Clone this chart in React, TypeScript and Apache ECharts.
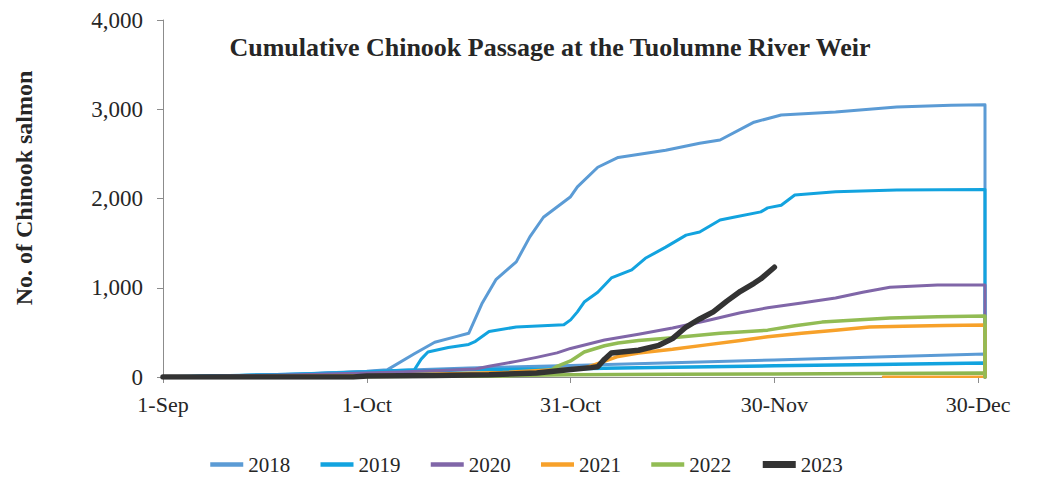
import React, { useEffect, useRef } from "react";
import * as echarts from "echarts";

// X axis: days since 1-Sep
const TICK_DAYS = [0, 30, 60, 90, 120];
const TICK_LABELS = ["1-Sep", "1-Oct", "31-Oct", "30-Nov", "30-Dec"];
const Y_TICKS = [0, 1000, 2000, 3000, 4000];

const LEGEND_NAMES = ["2018", "2019", "2020", "2021", "2022", "2023"];

const DAYS_2018 = [0, 10, 20, 30, 33, 37, 40, 43, 45, 47, 49, 52, 54, 56, 60, 61, 64, 67, 74, 79, 82, 87, 91, 99, 108, 116, 121, 121];
const VAL_2018 = [0, 15, 35, 65, 80, 260, 390, 450, 490, 830, 1090, 1290, 1570, 1790, 2020, 2130, 2350, 2460, 2540, 2620, 2655, 2855, 2935, 2970, 3025, 3045, 3050, 0];

const DAYS_2019 = [0, 10, 20, 30, 37, 38, 39, 42, 45, 46, 48, 52, 59, 60, 61, 62, 64, 66, 69, 71, 74, 77, 79, 82, 84, 88, 89, 91, 93, 99, 108, 121, 121];
const VAL_2019 = [0, 15, 35, 60, 80, 200, 280, 330, 365, 400, 510, 560, 585, 640, 730, 840, 950, 1110, 1200, 1330, 1455, 1590, 1625, 1760, 1790, 1850, 1895, 1925, 2040, 2075, 2095, 2100, 0];

const DAYS_2020 = [0, 20, 35, 46, 48, 52, 55, 58, 60, 65, 70, 75, 80, 85, 89, 94, 99, 103, 107, 114, 121, 121];
const VAL_2020 = [0, 25, 55, 90, 120, 175, 220, 270, 320, 415, 480, 550, 630, 720, 775, 830, 885, 950, 1005, 1030, 1030, 0];

const DAYS_2021 = [0, 30, 50, 62, 64, 67, 70, 75, 80, 85, 89, 94, 99, 104, 109, 115, 121, 121];
const VAL_2021 = [0, 15, 50, 100, 150, 230, 270, 310, 360, 410, 450, 490, 525, 560, 570, 578, 582, 0];

const DAYS_2022 = [0, 50, 55, 57, 58, 60, 62, 65, 67, 70, 75, 82, 89, 93, 97, 102, 107, 114, 121, 121];
const VAL_2022 = [0, 10, 30, 70, 120, 180, 280, 350, 380, 410, 440, 490, 525, 575, 615, 640, 660, 675, 683, 0];

const DAYS_2023 = [0, 28, 30, 40, 48, 55, 60, 63, 64, 65, 66, 70, 73, 75, 77, 79, 81, 83, 85, 87, 88, 90];
const VAL_2023 = [0, 0, 12, 18, 25, 45, 85, 105, 115, 200, 270, 300, 355, 430, 560, 650, 730, 850, 960, 1050, 1100, 1230];

// unlabeled low series
const DAYS_LOW_A = [0, 20, 33, 45, 60, 75, 90, 105, 121, 121];
const VAL_LOW_A = [0, 30, 70, 100, 130, 160, 190, 225, 258, 0];
const DAYS_LOW_B = [0, 20, 33, 45, 60, 75, 90, 105, 121, 121];
const VAL_LOW_B = [0, 28, 60, 80, 92, 108, 125, 140, 157, 0];
const DAYS_LOW_C = [0, 30, 45, 60, 75, 90, 105, 121, 121];
const VAL_LOW_C = [0, 5, 10, 25, 30, 35, 40, 45, 0];
const DAYS_LOW_D = [106, 121];
const VAL_LOW_D = [3, 3];

const FONT = '"Liberation Serif", "Times New Roman", serif';

const pairs = (d: number[], v: number[]) => d.map((x, i) => [x, v[i]]);

function line(name: string, days: number[], vals: number[], color: string, width: number) {
  return {
    name,
    type: "line",
    data: pairs(days, vals),
    symbol: "none",
    showSymbol: false,
    lineStyle: { color, width, cap: "round", join: "round" },
    itemStyle: { color },
    silent: true,
  };
}

export default function App() {
  const ref = useRef<HTMLDivElement>(null);
  useEffect(() => {
    if (!ref.current) return;
    const chart = echarts.init(ref.current, undefined, { renderer: "svg" });
    const option = {
      animation: false,
      backgroundColor: "#ffffff",
      grid: { left: 163, right: 63, top: 20, bottom: 105 },
      legend: {
        data: LEGEND_NAMES.map((n) => ({
          name: n,
          lineStyle: { width: n === "2023" ? 7 : 4.5, cap: "butt" },
        })),
        left: 208,
        top: 454,
        padding: 0,
        itemWidth: 33,
        itemHeight: 14,
        itemGap: 28,
        itemStyle: { color: "rgba(0,0,0,0)", borderWidth: 0, opacity: 0 },
        textStyle: { fontFamily: FONT, fontSize: 21, color: "#262626" },
      },
      xAxis: {
        type: "value",
        min: 0,
        max: 121,
        interval: 30,
        splitLine: { show: false },
        axisLine: { lineStyle: { color: "#8c8c8c", width: 1 } },
        axisTick: { show: true, length: 6, customValues: TICK_DAYS, lineStyle: { color: "#8c8c8c" } },
        axisLabel: {
          customValues: TICK_DAYS,
          margin: 16,
          fontFamily: FONT,
          fontSize: 22,
          color: "#262626",
          formatter: (v: number) => {
            const i = TICK_DAYS.indexOf(v);
            return i >= 0 ? TICK_LABELS[i] : "";
          },
        },
      },
      yAxis: {
        type: "value",
        min: 0,
        max: 4000,
        interval: 1000,
        splitLine: { show: false },
        axisLine: { show: true, lineStyle: { color: "#8c8c8c", width: 1 } },
        axisTick: { show: true, length: 6, lineStyle: { color: "#8c8c8c" } },
        axisLabel: {
          margin: 20,
          fontFamily: FONT,
          fontSize: 23,
          color: "#262626",
          formatter: (v: number) => (Y_TICKS.includes(v) ? v.toLocaleString("en-US") : ""),
        },
      },
      graphic: [
        {
          type: "text",
          x: 550,
          y: 47,
          style: {
            text: "Cumulative Chinook Passage at the Tuolumne River Weir",
            textAlign: "center",
            textVerticalAlign: "middle",
            font: `bold 26px ${FONT}`,
            fill: "#262626",
          },
        },
        {
          type: "text",
          x: 24,
          y: 188,
          rotation: Math.PI / 2,
          style: {
            text: "No. of Chinook salmon",
            textAlign: "center",
            textVerticalAlign: "middle",
            font: `bold 24px ${FONT}`,
            fill: "#262626",
          },
        },
      ],
      series: [
        line("2018 low", DAYS_LOW_A, VAL_LOW_A, "#5B9BD5", 3),
        line("2019 low", DAYS_LOW_B, VAL_LOW_B, "#12A3DF", 3.5),
        line("2022 low", DAYS_LOW_C, VAL_LOW_C, "#8DB650", 3.5),
        line("2021 low", DAYS_LOW_D, VAL_LOW_D, "#F5A12E", 2.5),
        line("2018", DAYS_2018, VAL_2018, "#5B9BD5", 3),
        line("2019", DAYS_2019, VAL_2019, "#12A3DF", 3),
        line("2020", DAYS_2020, VAL_2020, "#8066A8", 3),
        line("2021", DAYS_2021, VAL_2021, "#F7A12A", 3.5),
        line("2022", DAYS_2022, VAL_2022, "#92BC54", 3.5),
        line("2023", DAYS_2023, VAL_2023, "#333333", 5.5),
      ],
    };
    chart.setOption(option as any);
    return () => chart.dispose();
  }, []);
  return (
    <div
      ref={ref}
      style={{ position: "absolute", left: 0, top: 0, width: 1048, height: 482, background: "#fff" }}
    />
  );
}
